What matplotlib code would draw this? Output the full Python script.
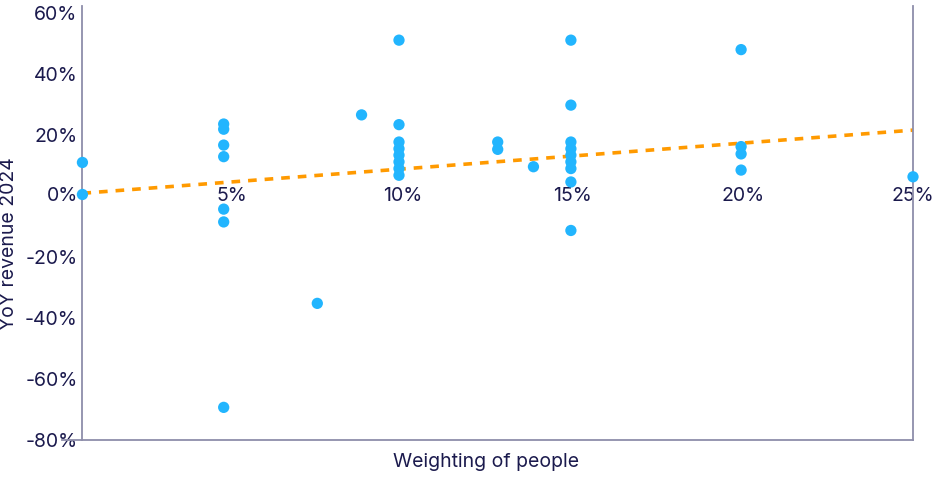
import matplotlib
matplotlib.use("Agg")
import matplotlib.pyplot as plt
from matplotlib.ticker import FuncFormatter

plt.rcParams['font.family'] = ['Inter', 'DejaVu Sans']

# Data (weighting of people %, YoY revenue 2024 %)
weight = [0.6, 0.6,
          4.75, 4.75, 4.75, 4.75, 4.75, 4.75, 4.75,
          7.5,
          8.8,
          9.9, 9.9, 9.9, 9.9, 9.9, 9.9, 9.9, 9.9,
          12.8, 12.8,
          13.85,
          14.95, 14.95, 14.95, 14.95, 14.95, 14.95, 14.95, 14.95, 14.95,
          19.95, 19.95, 19.95, 19.95,
          25.0]
revenue = [11.0, 0.5,
           23.6, 21.9, 16.7, 12.9, -4.3, -8.5, -69.3,
           -35.2,
           26.6,
           51.1, 23.4, 17.7, 15.5, 13.4, 11.2, 9.0, 6.8,
           17.7, 15.3,
           9.6,
           51.1, 29.8, 17.7, 15.5, 13.4, 11.2, 9.0, 4.6, -11.3,
           48.0, 16.2, 13.8, 8.5,
           6.3]
trend_x = [0.6, 25.0]
trend_y = [0.9, 21.6]
x_ticks = [0, 5, 10, 15, 20, 25]
y_ticks = [-80, -60, -40, -20, 0, 20, 40, 60]

TEXT = '#1b1a4d'
SPINE = '#8e8eaa'
DOT = '#22b5fe'
ORANGE = '#ff9a00'
FS = 14

fig = plt.figure(figsize=(9.36, 4.94), dpi=100)
W, H = 936, 494
ax = fig.add_axes([62 / W, 54 / H, 851 / W, 434 / H])

ax.set_xlim(0, 25)
ax.set_ylim(-80, 62.3)

ax.plot(trend_x, trend_y, color=ORANGE, lw=2.6, dashes=(2.4, 2.2),
        solid_capstyle='butt', dash_capstyle='butt', zorder=2)
ax.scatter(weight, revenue, s=66, color=DOT, edgecolors='none', zorder=3, clip_on=False)

ax.spines['top'].set_visible(False)
ax.spines['left'].set_position(('data', 0.6))
for s in ['left', 'right', 'bottom']:
    ax.spines[s].set_color(SPINE)
    ax.spines[s].set_linewidth(1.3)

ax.set_yticks(y_ticks)
# the 0% on the y axis coincides with the x axis' 0% label, drawn once below
ax.yaxis.set_major_formatter(FuncFormatter(lambda v, p: '' if v == 0 else f'{v:.0f}%'))
ax.tick_params(axis='y', length=0, pad=3.5, labelsize=FS, labelcolor=TEXT)
ax.set_xticks([])
for xt in x_ticks:
    ax.text(xt, 0, f'{xt}%', ha='center', va='center', fontsize=FS,
            color=TEXT, zorder=1, clip_on=False)

fig.text(486 / W, 1 - 462 / H, 'Weighting of people', ha='center', va='center',
         fontsize=FS, color=TEXT)
fig.text(9 / W, 1 - 244 / H, 'YoY revenue 2024', ha='center', va='center',
         rotation=90, fontsize=FS, color=TEXT)

fig.savefig('out.png', dpi=100)
